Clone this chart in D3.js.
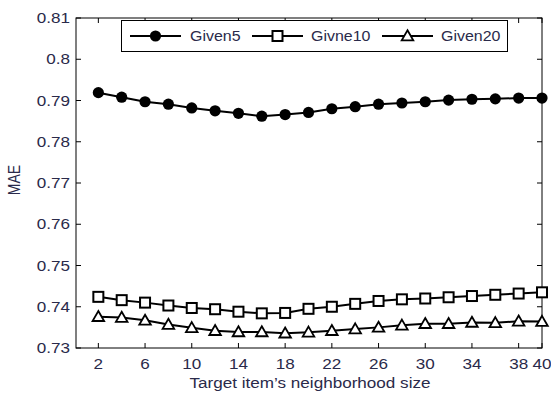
<!DOCTYPE html>
<html>
<head>
<meta charset="utf-8">
<script src="https://cdn.jsdelivr.net/npm/d3@7"></script>
<style>
  body { margin: 0; background: #fff; }
  svg text { font-family: "Liberation Sans", Arial, sans-serif; }
</style>
</head>
<body>
<div id="chart"></div>
<script>
const sizes = [2, 4, 6, 8, 10, 12, 14, 16, 18, 20, 22, 24, 26, 28, 30, 32, 34, 36, 38, 40];
const given5 = [0.7919, 0.7908, 0.7897, 0.7891, 0.7882, 0.7875, 0.7869, 0.7862, 0.7866, 0.7871,
  0.7880, 0.7885, 0.7891, 0.7894, 0.7897, 0.7901, 0.7903, 0.7904, 0.7906, 0.7906];
const givne10 = [0.7424, 0.7416, 0.7410, 0.7403, 0.7397, 0.7394, 0.7388, 0.7384, 0.7385, 0.7395,
  0.7400, 0.7407, 0.7414, 0.7418, 0.7420, 0.7423, 0.7426, 0.7429, 0.7432, 0.7435];
const given20 = [0.7376, 0.7374, 0.7367, 0.7357, 0.7349, 0.7342, 0.7339, 0.7339, 0.7336, 0.7338,
  0.7342, 0.7346, 0.7350, 0.7355, 0.7359, 0.7359, 0.7362, 0.7361, 0.7365, 0.7364];
const seriesNames = ['Given5', 'Givne10', 'Given20'];
const xTicks = [2, 6, 10, 14, 18, 22, 26, 30, 34, 38, 40];
const yTicks = [0.73, 0.74, 0.75, 0.76, 0.77, 0.78, 0.79, 0.8, 0.81];

const width = 551, height = 394;
const plot = { left: 76, right: 542, top: 18, bottom: 348 };
const textColor = '#2a2a4a';
// the original figure is stretched a little horizontally
const stretch = 1.14;

const svg = d3.select('#chart').append('svg')
  .attr('width', width)
  .attr('height', height);

const x = d3.scaleLinear().domain([0, 40]).range([plot.left - 1, plot.right]);
const y = d3.scaleLinear().domain([0.73, 0.81]).range([plot.bottom, plot.top]);

function label(g, px, py, str, size, anchor) {
  return g.append('text')
    .attr('transform', `translate(${px},${py}) scale(${stretch},1)`)
    .attr('text-anchor', anchor || 'start')
    .attr('font-size', size).attr('fill', textColor)
    .text(str);
}

// tick marks on all four sides, pointing inward
const tick = 5;
const ticks = svg.append('g').attr('stroke', '#000').attr('stroke-width', 1);
xTicks.forEach(v => {
  ticks.append('line').attr('x1', x(v)).attr('x2', x(v)).attr('y1', plot.bottom).attr('y2', plot.bottom - tick);
  ticks.append('line').attr('x1', x(v)).attr('x2', x(v)).attr('y1', plot.top).attr('y2', plot.top + tick);
});
yTicks.forEach(v => {
  ticks.append('line').attr('x1', plot.left).attr('x2', plot.left + tick).attr('y1', y(v)).attr('y2', y(v));
  ticks.append('line').attr('x1', plot.right).attr('x2', plot.right - tick).attr('y1', y(v)).attr('y2', y(v));
});

svg.append('rect')
  .attr('x', plot.left).attr('y', plot.top)
  .attr('width', plot.right - plot.left).attr('height', plot.bottom - plot.top)
  .attr('fill', 'none').attr('stroke', '#000').attr('stroke-width', 1);

const xLab = svg.append('g');
xTicks.forEach(v => label(xLab, x(v), plot.bottom + 21, v, 15, 'middle'));

const yLab = svg.append('g');
yTicks.forEach(v => label(yLab, plot.left - 6, y(v) + 5, d3.format('')(v), 15, 'end'));

label(svg, (plot.left + plot.right) / 2 + 1, 388, 'Target item\u2019s neighborhood size', 15, 'middle');

svg.append('text')
  .attr('transform', `translate(20, 180) scale(${stretch},1) rotate(-90)`)
  .attr('text-anchor', 'middle')
  .attr('font-size', 14).attr('fill', textColor)
  .text('MAE');

const line = d3.line().x(d => x(d[0])).y(d => y(d[1]));

function marker(g, type, cx, cy) {
  if (type === 'circle') {
    g.append('circle').attr('cx', cx).attr('cy', cy).attr('r', 5.6)
      .attr('fill', '#000');
  } else if (type === 'square') {
    g.append('rect').attr('x', cx - 5).attr('y', cy - 5).attr('width', 10).attr('height', 10)
      .attr('fill', '#fff').attr('stroke', '#000').attr('stroke-width', 2);
  } else {
    const s = d3.symbol().type(d3.symbolTriangle).size(58);
    g.append('path').attr('d', s()).attr('transform', `translate(${cx},${cy + 1})`)
      .attr('fill', '#fff').attr('stroke', '#000').attr('stroke-width', 1.8);
  }
}

const allSeries = [
  { name: seriesNames[0], values: given5, type: 'circle' },
  { name: seriesNames[1], values: givne10, type: 'square' },
  { name: seriesNames[2], values: given20, type: 'triangle' }
];

allSeries.forEach(s => {
  const pts = sizes.map((v, i) => [v, s.values[i]]);
  const g = svg.append('g');
  g.append('path').datum(pts).attr('d', line)
    .attr('fill', 'none').attr('stroke', '#000').attr('stroke-width', 2);
  pts.forEach(p => marker(g, s.type, x(p[0]), y(p[1])));
});

// legend
const leg = svg.append('g');
leg.append('rect').attr('x', 121.5).attr('y', 20.5).attr('width', 386).attr('height', 31)
  .attr('fill', '#fff').attr('stroke', '#000').attr('stroke-width', 1);
const legItems = [
  { x0: 130, text: 190 },
  { x0: 252, text: 311 },
  { x0: 382, text: 441 }
];
allSeries.forEach((s, i) => {
  const it = legItems[i];
  leg.append('line').attr('x1', it.x0).attr('x2', it.x0 + 51).attr('y1', 36).attr('y2', 36)
    .attr('stroke', '#000').attr('stroke-width', 2);
  marker(leg, s.type, it.x0 + 25.5, 36);
  label(leg, it.text, 41, s.name, 14);
});
</script>
</body>
</html>
